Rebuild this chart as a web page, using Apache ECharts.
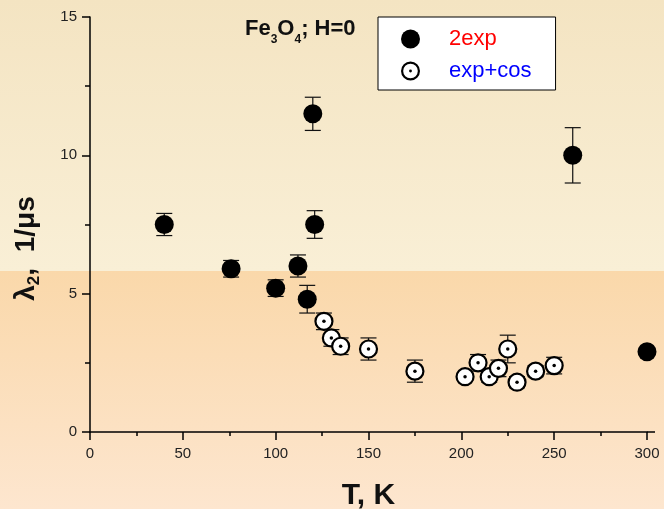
<!DOCTYPE html>
<html>
<head>
<meta charset="utf-8">
<script src="https://cdn.jsdelivr.net/npm/echarts@6/dist/echarts.min.js"></script>
<style>
html,body{margin:0;padding:0;}
#chart{width:664px;height:509px;}
</style>
</head>
<body>
<div id="chart"></div>
<script>
// ---- data ----
var filledT   = [40, 76, 100, 112, 117, 120, 121, 260, 300];
var filledL   = [7.5, 5.9, 5.2, 6.0, 4.8, 11.5, 7.5, 10.0, 2.9];
var filledErr = [0.4, 0.3, 0.3, 0.4, 0.5, 0.6, 0.5, 1.0, 0];

var openT   = [126, 130, 135, 150, 175, 202, 209, 215, 220, 225, 230, 240, 250];
var openL   = [4.0, 3.4, 3.1, 3.0, 2.2, 2.0, 2.5, 2.0, 2.3, 3.0, 1.8, 2.2, 2.4];
var openErr = [0.3, 0.3, 0.3, 0.4, 0.4, 0.15, 0.3, 0.2, 0.3, 0.5, 0.2, 0.2, 0.3];

var xTicks = [0, 50, 100, 150, 200, 250, 300];
var yTicks = [0, 5, 10, 15];
var seriesNames = ['2exp', 'exp+cos'];

// ---- build ----
function pairs(xs, ys) { return xs.map(function (x, i) { return [x, ys[i]]; }); }
function errRows(xs, ys, es) { return xs.map(function (x, i) { return [x, ys[i] - es[i], ys[i] + es[i]]; }); }

var FONT = '"Liberation Sans", Arial, sans-serif';
var errorData = errRows(filledT, filledL, filledErr).concat(errRows(openT, openL, openErr))
  .filter(function (r) { return r[2] > r[1]; });

function renderErr(params, api) {
  var x = api.value(0);
  var lo = api.coord([x, api.value(1)]);
  var hi = api.coord([x, api.value(2)]);
  var w = 8;
  var st = { stroke: '#111', lineWidth: 1.2 };
  return {
    type: 'group',
    children: [
      { type: 'line', shape: { x1: lo[0], y1: lo[1], x2: hi[0], y2: hi[1] }, style: st },
      { type: 'line', shape: { x1: lo[0] - w, y1: lo[1], x2: lo[0] + w, y2: lo[1] }, style: st },
      { type: 'line', shape: { x1: hi[0] - w, y1: hi[1], x2: hi[0] + w, y2: hi[1] }, style: st }
    ]
  };
}

var ringDot = 'path://M10,0A10,10 0 1,1 10,20A10,10 0 1,1 10,0Z' +
              'M10,2.3A7.7,7.7 0 1,0 10,17.7A7.7,7.7 0 1,0 10,2.3Z' +
              'M10,8.5A1.5,1.5 0 1,1 10,11.5A1.5,1.5 0 1,1 10,8.5Z';

var chart = echarts.init(document.getElementById('chart'));
var option = {
  animation: false,
  backgroundColor: 'transparent',
  textStyle: { fontFamily: FONT },
  graphic: [
    { type: 'rect', z: -100, silent: true, shape: { x: 0, y: 0, width: 664, height: 271 },
      style: { fill: new echarts.graphic.LinearGradient(0, 0, 0, 1, [
        { offset: 0, color: '#f4e4c2' }, { offset: 1, color: '#f9efd6' }]) } },
    { type: 'rect', z: -100, silent: true, shape: { x: 0, y: 271, width: 664, height: 238 },
      style: { fill: new echarts.graphic.LinearGradient(0, 0, 0, 1, [
        { offset: 0, color: '#fad8aa' }, { offset: 1, color: '#fde6cf' }]) } }
  ],
  title: {
    text: '{a|Fe}{s|3}{a|O}{s|4}{a|; H=0}',
    left: 245, top: 18, padding: 0,
    textStyle: {
      rich: {
        a: { fontFamily: FONT, fontSize: 22, fontWeight: 'bold', color: '#111', verticalAlign: 'top' },
        s: { fontFamily: FONT, fontSize: 12, fontWeight: 'bold', color: '#111', verticalAlign: 'top', padding: [16, 0, 0, 0] }
      }
    }
  },
  legend: {
    orient: 'vertical',
    left: 378, top: 17,
    padding: [11, 24, 8, 23],
    itemWidth: 19, itemHeight: 19, itemGap: 10,
    backgroundColor: '#ffffff', borderColor: '#000', borderWidth: 1, borderRadius: 0,
    textStyle: { fontFamily: FONT, fontSize: 22, lineHeight: 19, padding: [0, 0, 0, 24] },
    data: [
      { name: seriesNames[0], icon: 'circle', itemStyle: { color: '#000', borderWidth: 0 }, textStyle: { color: '#ff0000' } },
      { name: seriesNames[1], icon: ringDot, itemStyle: { color: '#000', borderWidth: 0 }, textStyle: { color: '#0000ff' } }
    ]
  },
  grid: { left: 90, right: 17, top: 17, bottom: 77, containLabel: false, outerBoundsMode: 'none' },
  xAxis: {
    type: 'value', min: xTicks[0], max: xTicks[xTicks.length - 1], interval: 50,
    name: 'T, K', nameLocation: 'middle', nameGap: 49,
    nameTextStyle: { fontFamily: FONT, fontSize: 30, fontWeight: 'bold', color: '#111' },
    axisLine: { show: true, onZero: false, lineStyle: { color: '#000', width: 1.5 } },
    axisTick: { show: true, inside: false, length: 8, lineStyle: { color: '#000', width: 1.5 } },
    minorTick: { show: true, splitNumber: 2, length: 4, lineStyle: { color: '#000', width: 1.5 } },
    axisLabel: { fontFamily: FONT, fontSize: 15, color: '#222', margin: 14 },
    splitLine: { show: false }
  },
  yAxis: {
    type: 'value', min: yTicks[0], max: yTicks[yTicks.length - 1], interval: 5,
    name: '{a|λ}{s|2}{a|,  1/μs}', nameLocation: 'middle', nameGap: 47, nameRotate: 90,
    nameTextStyle: {
      padding: [0, 48, 0, 0],
      rich: {
        a: { fontFamily: FONT, fontSize: 28, fontWeight: 'bold', color: '#111', verticalAlign: 'top' },
        s: { fontFamily: FONT, fontSize: 17, fontWeight: 'bold', color: '#111', verticalAlign: 'top', padding: [14, 0, 0, 0] }
      }
    },
    axisLine: { show: true, onZero: false, lineStyle: { color: '#000', width: 1.5 } },
    axisTick: { show: true, inside: false, length: 8, lineStyle: { color: '#000', width: 1.5 } },
    minorTick: { show: true, splitNumber: 2, length: 5, lineStyle: { color: '#000', width: 1.5 } },
    axisLabel: { fontFamily: FONT, fontSize: 15, color: '#222', margin: 13 },
    splitLine: { show: false }
  },
  series: [
    { name: 'errors', type: 'custom', renderItem: renderErr, data: errorData, z: 1,
      encode: { x: 0, y: [1, 2] }, silent: true },
    { name: seriesNames[0], type: 'scatter', data: pairs(filledT, filledL), symbol: 'circle', symbolSize: 19,
      itemStyle: { color: '#000', opacity: 1 }, z: 3 },
    { name: seriesNames[1], type: 'scatter', data: pairs(openT, openL), symbol: 'circle', symbolSize: 17,
      itemStyle: { color: '#fff', borderColor: '#000', borderWidth: 2.2, opacity: 1 }, z: 3 },
    { name: 'centers', type: 'scatter', data: pairs(openT, openL), symbol: 'circle', symbolSize: 3.5,
      itemStyle: { color: '#000', opacity: 1 }, z: 4, silent: true }
  ]
};
chart.setOption(option);

// extend the x axis line a little past 300, as in the reference
var p0 = chart.convertToPixel({ xAxisIndex: 0, yAxisIndex: 0 }, [xTicks[xTicks.length - 1], 0]);
chart.setOption({
  graphic: option.graphic.concat([
    { type: 'line', z: 10, silent: true, shape: { x1: p0[0], y1: p0[1], x2: p0[0] + 8, y2: p0[1] },
      style: { stroke: '#000', lineWidth: 1.5 } }
  ])
});
</script>
</body>
</html>
